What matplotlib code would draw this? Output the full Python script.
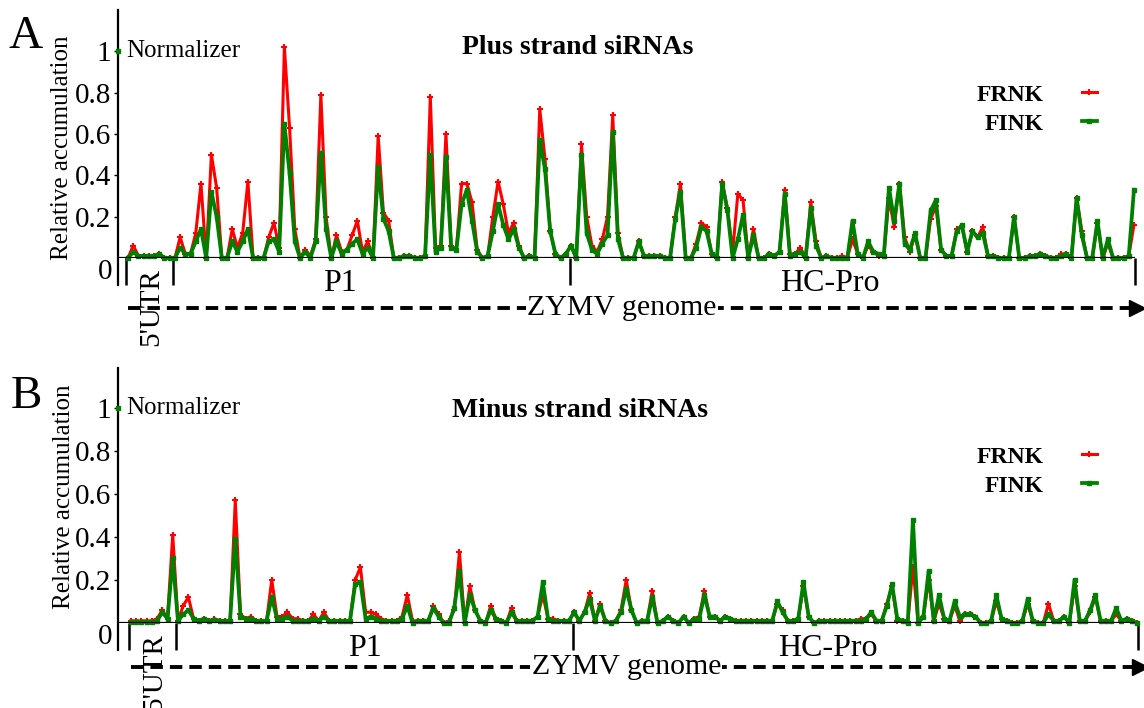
import numpy as np
import matplotlib
matplotlib.use('Agg')
from matplotlib import pyplot as plt
from matplotlib.transforms import blended_transform_factory

plt.rcParams['font.family'] = 'Liberation Serif'

# ---- data: relative siRNA accumulation per genome bin ----
bins = np.arange(194)

plus_frnk = [
    0, .06, .01, .01, .01, .01, .02, 0, 0, 0,
    .10, .02, .02, .12, .36, 0, .50, .34, 0, 0,
    .14, .05, .12, .37, 0, 0, 0, .10, .17, .05,
    1.02, .63, .14, 0, .04, .01, .09, .79, .20, 0,
    .11, .03, .04, .11, .18, .03, .08, 0, .59, .22,
    .18, 0, 0, .01, .01, 0, 0, .01, .78, .05,
    .06, .60, .06, .04, .36, .36, .27, .04, 0, .01,
    .20, .37, .26, .12, .17, .06, 0, .01, 0, .72,
    .48, .13, .02, 0, .02, .06, 0, .55, .20, .06,
    .03, .09, .20, .69, .12, 0, 0, 0, .08, .01,
    .01, .01, .01, 0, 0, .20, .36, 0, 0, .07,
    .17, .15, .02, 0, .37, .24, .03, .31, .28, 0,
    .14, 0, 0, .02, .01, .03, .33, .02, .02, .05,
    0, .27, .08, 0, .01, 0, 0, .01, 0, .09,
    .02, 0, .06, .03, .01, .01, .29, .15, .36, .10,
    .03, .11, 0, 0, .19, .25, .04, .01, .01, .14,
    .15, .03, .13, .10, .15, .01, .01, 0, 0, 0,
    .20, 0, 0, .01, .01, .02, .01, 0, 0, .02,
    .02, 0, .29, .13, 0, 0, .17, 0, .07, 0,
    0, 0, .01, .16]

plus_fink = [
    0, .03, .01, .01, .01, .01, .02, 0, 0, 0,
    .05, .02, .02, .08, .14, 0, .32, .20, 0, 0,
    .08, .03, .08, .14, 0, 0, 0, .08, .09, .03,
    .65, .41, .08, 0, .03, 0, .08, .51, .14, 0,
    .08, .02, .04, .07, .09, .02, .05, 0, .44, .19,
    .13, 0, 0, .01, .01, 0, 0, .01, .50, .03,
    .05, .49, .05, .04, .26, .33, .18, .03, 0, .01,
    .13, .26, .16, .09, .14, .05, 0, .01, 0, .57,
    .43, .13, .02, 0, .02, .06, 0, .50, .12, .04,
    .02, .07, .11, .61, .09, 0, 0, 0, .08, .01,
    .01, .01, .01, 0, 0, .19, .32, 0, 0, .05,
    .15, .13, .02, 0, .36, .23, 0, .09, .21, 0,
    .11, 0, 0, .02, .01, .03, .31, .01, .02, .03,
    0, .24, .06, 0, .01, 0, 0, 0, 0, .18,
    .02, 0, .08, .03, .02, .01, .34, .18, .36, .07,
    .04, .12, 0, 0, .23, .28, .04, .01, .01, .13,
    .16, .03, .13, .10, .12, .01, .01, 0, 0, 0,
    .20, 0, 0, .01, .01, .02, .01, 0, 0, .01,
    .02, 0, .29, .11, 0, 0, .18, 0, .09, 0,
    0, 0, .01, .33]

minus_frnk = [
    .01, .01, .01, .01, .01, .02, .06, .02, .41, .01,
    .08, .12, .02, .01, .02, .01, .02, .01, .01, .01,
    .57, .04, .02, .03, .01, .01, .01, .20, .03, .03,
    .05, .02, .02, .01, .01, .04, .01, .05, .01, .01,
    .01, .01, .01, .20, .26, .05, .05, .04, .02, .01,
    .01, .01, .03, .13, .01, .01, .01, .01, .08, .04,
    0, .01, .06, .33, 0, .17, .06, .01, 0, .08,
    .02, .01, 0, .07, .01, .01, .01, .01, .03, .13,
    .02, .02, .01, .01, .01, .05, .01, .05, .14, .01,
    .09, .01, 0, .01, .06, .20, .06, 0, .01, .01,
    .15, 0, .01, .03, .01, 0, .03, 0, .02, .03,
    .15, .03, .03, .01, .03, .02, .01, .01, .01, .01,
    .01, .01, .01, .01, .09, .06, .01, .01, .02, .17,
    .03, 0, .01, .01, .01, .01, .01, .01, .01, .01,
    .02, .02, .04, .01, .01, .09, .17, .01, .01, 0,
    .26, 0, .03, .20, .01, .09, .02, .01, .08, .01,
    .04, .04, .03, 0, 0, .01, .10, .02, .01, 0,
    0, .01, .09, .01, 0, 0, .09, .01, .01, .03,
    0, .17, .01, .01, .05, .12, .01, .01, .01, .04,
    .01, .02, .01, 0]

minus_fink = [
    .005, .005, .005, .005, .005, .01, .05, .02, .30, .01,
    .04, .06, .02, .01, .02, .01, .015, .01, .01, .01,
    .39, .03, .02, .02, .01, .01, .01, .12, .02, .02,
    .03, .01, .01, .01, .01, .02, .01, .03, .01, .01,
    .01, .01, .01, .18, .19, .02, .03, .02, .01, .01,
    .01, .01, .02, .08, 0, .01, .01, .01, .07, .03,
    0, 0, .07, .24, 0, .13, .06, .01, 0, .06,
    .02, .01, 0, .05, .01, .01, .01, .01, .03, .19,
    .02, .01, .01, .01, .01, .05, .01, .05, .11, .01,
    .08, .01, 0, .01, .05, .16, .06, 0, .01, .01,
    .12, 0, .01, .03, .01, 0, .03, 0, .02, .02,
    .13, .03, .03, .01, .03, .02, .01, .01, .01, .01,
    .01, .01, .01, .01, .10, .05, .01, .01, .02, .19,
    .03, 0, .01, .01, .01, .01, .01, .01, .01, .01,
    .01, .02, .05, .01, .01, .08, .18, .02, .01, 0,
    .48, 0, .03, .24, .01, .13, .02, .01, .10, .03,
    .04, .04, .03, 0, 0, .01, .13, .02, .01, 0,
    0, .01, .11, .01, 0, 0, .04, .01, .01, .03,
    0, .20, .01, .01, .06, .13, .01, .01, .01, .07,
    .01, .02, .01, 0]

series_names = ['FRNK', 'FINK']
series_colors = ['#ff0000', '#008000']
panel_titles = ['Plus strand siRNAs', 'Minus strand siRNAs']
panel_letters = ['A', 'B']
ytick_vals = [0.2, 0.4, 0.6, 0.8, 1]
ytick_labels = ['0.2', '0.4', '0.6', '0.8', '1']
normalizer = 1.0

# genome map (in bin units): 5'UTR | P1 | HC-Pro
region_edges = [-0.38, 8.63, 84.8, 193.2]
region_names = ["5'UTR", 'P1', 'HC-Pro']
genome_name = 'ZYMV genome'

W, H = 1144, 708


def fx(px):
    return px / W


def fy(py):
    return 1 - py / H


fig = plt.figure(figsize=(W / 100, H / 100), dpi=100)

# per panel layout, in pixels of the output image
panels = [
    dict(zero=258, top=10, xlim=(-1.92, 193.2), frnk=plus_frnk, fink=plus_fink,
         title_xy=(578, 47), letter_xy=(26, 37), ylab_xy=(62, 148), legend_xy=(977, 84),
         p1_x=40.7, hc_x=134.7, gen_x=94.8, utr_top=10, arr=50),
    dict(zero=623, top=368, xlim=(-2.5, 192.6), frnk=minus_frnk, fink=minus_fink,
         title_xy=(580, 410), letter_xy=(26, 397), ylab_xy=(64, 497), legend_xy=(977, 446),
         p1_x=44.9, hc_x=133.6, gen_x=95.0, utr_top=10, arr=44),
]

for k, p in enumerate(panels):
    ytop = 1.2 if k == 0 else 1.186
    ax = fig.add_axes([fx(118), fy(p['zero']), fx(1135) - fx(118), (p['zero'] - p['top']) / H])
    ax.set_xlim(*p['xlim'])
    ax.set_ylim(0, ytop)
    upp = ytop / (p['zero'] - p['top'])   # data units per pixel

    ax.plot(bins, p['frnk'], color=series_colors[0], lw=2.2, marker='+', ms=5, mew=1.5,
            label=series_names[0], clip_on=False, zorder=3)
    ax.plot(bins, p['fink'], color=series_colors[1], lw=2.7, marker='s', ms=3.4,
            label=series_names[1], clip_on=False, zorder=4)

    for s in ax.spines.values():
        s.set_visible(False)
    ax.set_xticks([])
    ax.set_yticks(ytick_vals)
    ax.set_yticklabels(ytick_labels)
    ax.tick_params(axis='y', length=3, width=1, pad=2, labelsize=21)

    trans = blended_transform_factory(ax.transAxes, ax.transData)
    # y axis runs down past zero into the genome map
    ax.plot([0, 0], [-27 * upp, ytop], transform=trans, color='k', lw=1.6, clip_on=False)
    ax.axhline(0, color='k', lw=1.6, zorder=5)
    ax.text(-0.006, -14 * upp, '0', transform=trans, ha='right', va='center', fontsize=21)

    # normalizer point
    ax.plot([0], [normalizer], transform=trans, marker='s', ms=3.5, color=series_colors[1],
            clip_on=False, zorder=6)
    ax.text(0.008, normalizer, 'Normalizer', transform=trans, ha='left', va='center',
            fontsize=18)

    # genome map
    ax.vlines(region_edges, -27 * upp, 0, color='k', lw=1.8, clip_on=False)
    ax.text(4.4, -p['utr_top'] * upp, region_names[0], rotation=90, ha='center', va='top',
            fontsize=21, clip_on=False)
    ax.text(p['p1_x'], -26 * upp, region_names[1], ha='center', va='center', fontsize=23)
    ax.text(p['hc_x'], -26 * upp, region_names[2], ha='center', va='center', fontsize=23)
    yarr = -p['arr'] * upp
    ax.plot([0, 193.5], [yarr, yarr], color='k', lw=2.8, ls=(0, (3.2, 1.8)), clip_on=False)
    ax.plot([193.5], [yarr], marker='>', ms=11, color='k', clip_on=False)
    ax.text(p['gen_x'], yarr, genome_name, ha='center', va='center', fontsize=21.5,
            bbox=dict(facecolor='white', edgecolor='none', pad=1))

    ax.legend(loc='upper left', bbox_to_anchor=(fx(p['legend_xy'][0]), fy(p['legend_xy'][1])),
              bbox_transform=fig.transFigure, frameon=False, markerfirst=False,
              handlelength=0.65, handletextpad=1.6, labelspacing=0.32,
              borderpad=0, borderaxespad=0, prop=dict(size=17, weight='bold'))

    fig.text(fx(p['title_xy'][0]), fy(p['title_xy'][1]), panel_titles[k], ha='center',
             va='center', fontsize=20, fontweight='bold')
    fig.text(fx(p['letter_xy'][0]), fy(p['letter_xy'][1]), panel_letters[k], ha='center',
             va='center', fontsize=34)
    fig.text(fx(p['ylab_xy'][0]), fy(p['ylab_xy'][1]), 'Relative accumulation', rotation=90,
             ha='center', va='center', fontsize=18)

fig.savefig('out.png', dpi=100)
